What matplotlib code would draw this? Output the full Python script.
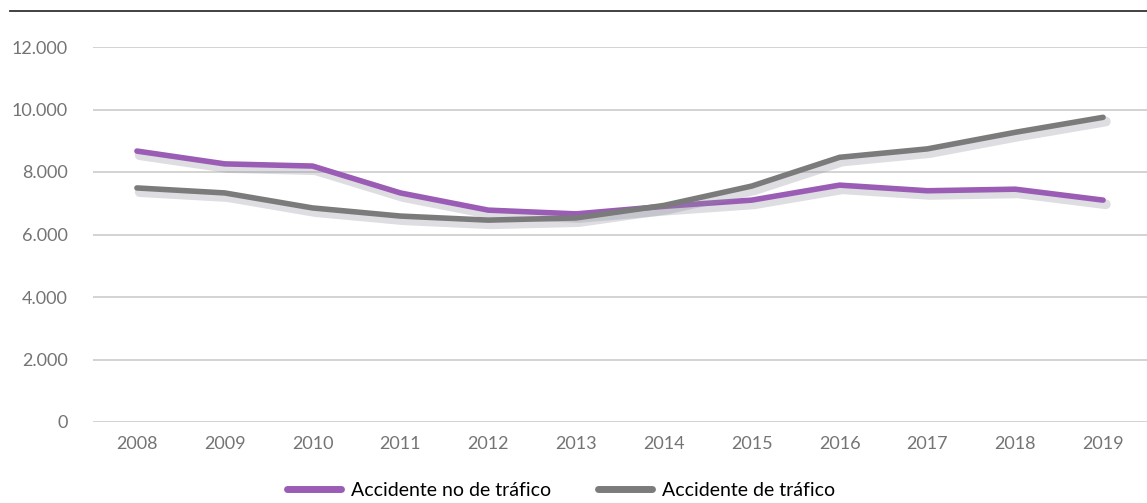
import matplotlib
matplotlib.use("Agg")
import matplotlib.pyplot as plt
import matplotlib.patheffects as pe
from matplotlib.lines import Line2D

years = ["2008", "2009", "2010", "2011", "2012", "2013",
         "2014", "2015", "2016", "2017", "2018", "2019"]
no_trafico = [8670, 8260, 8190, 7330, 6780, 6660, 6900, 7100, 7580, 7400, 7450, 7100]
trafico = [7490, 7330, 6850, 6590, 6460, 6530, 6930, 7550, 8470, 8740, 9270, 9750]
yticks = [0, 2000, 4000, 6000, 8000, 10000, 12000]
ytick_labels = ["0", "2.000", "4.000", "6.000", "8.000", "10.000", "12.000"]

plt.rcParams["font.family"] = ["Lato", "DejaVu Sans"]

fig = plt.figure(figsize=(11.47, 5.03), dpi=100)
ax = fig.add_axes([93 / 1147, 1 - 422 / 503, 1 - 93 / 1147, (422 - 47) / 503])

x = list(range(len(years)))
shadow = [pe.SimpleLineShadow(offset=(2, -3), shadow_color="#9090a0", alpha=0.3, linewidth=7),
          pe.Normal()]
ax.plot(x, no_trafico, color="#9a5cb4", lw=4, solid_capstyle="round",
        solid_joinstyle="round", path_effects=shadow, zorder=3)
ax.plot(x, trafico, color="#7b7b7b", lw=4, solid_capstyle="round",
        solid_joinstyle="round", path_effects=shadow, zorder=3)

ax.set_xlim(-0.5, len(years) - 0.5)
ax.set_ylim(0, 12000)
ax.set_yticks(yticks)
ax.set_yticklabels(ytick_labels)
ax.set_xticks(x)
ax.set_xticklabels(years)
ax.yaxis.grid(True, color="#d0d0d0", lw=1.3)
ax.set_axisbelow(True)
for s in ax.spines.values():
    s.set_visible(False)
ax.tick_params(length=0, labelsize=13, labelcolor="#747474")
ax.tick_params(axis="y", pad=18)
ax.tick_params(axis="x", pad=10)

# top rule
fig.add_artist(Line2D([10 / 1147, 1], [1 - 11 / 503, 1 - 11 / 503], color="#333333", lw=1.3))

handles = [Line2D([], [], color="#9a5cb4", lw=5, solid_capstyle="round"),
           Line2D([], [], color="#7b7b7b", lw=5, solid_capstyle="round")]
fig.legend(handles, ["Accidente no de tráfico", "Accidente de tráfico"],
           loc="center", bbox_to_anchor=(0.489, 1 - 490 / 503), ncol=2, frameon=False,
           fontsize=14, handlelength=2.8, columnspacing=2.4, handletextpad=0.5)

fig.savefig("out.png", dpi=100)
